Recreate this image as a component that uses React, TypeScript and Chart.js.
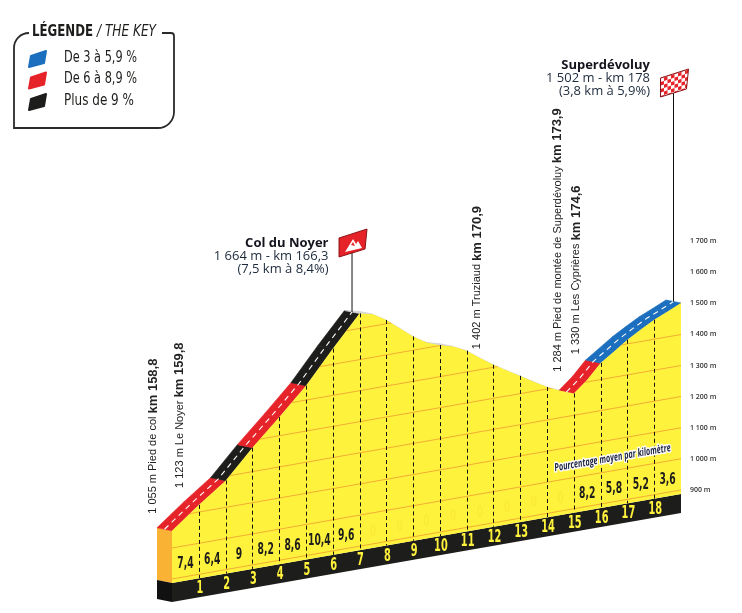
import { useEffect, useRef } from 'react';
import { Chart, registerables } from 'chart.js';

Chart.register(...registerables);

// profile: km from the foot of the Col du Noyer, elevation in metres
const profileKm = [0, 1, 2, 3, 4, 5, 6, 7, 7.5, 8, 8.5, 9, 9.5, 10, 10.5, 11, 11.5, 12, 12.5, 13, 13.5, 14, 14.5, 15, 15.5, 16, 16.5, 17, 17.5, 18, 18.5, 19];
const profileElev = [1055, 1123, 1186, 1277, 1360, 1446, 1550, 1648, 1638, 1612, 1578, 1544, 1517, 1501, 1489, 1468, 1437, 1408, 1382, 1357, 1331, 1306, 1287, 1270, 1307, 1353, 1383, 1413, 1438, 1462, 1481, 1501];
// average gradient of each km (0 = no climb)
const kmGradient = [7.4, 6.4, 9, 8.2, 8.6, 10.4, 9.6, 0, 0, 0, 0, 0, 0, 0, 0, 8.2, 5.8, 5.2, 3.6];
const kmMarks = [1, 2, 3, 4, 5, 6, 7, 8, 9, 10, 11, 12, 13, 14, 15, 16, 17, 18];
const elevTicks = [900, 1000, 1100, 1200, 1300, 1400, 1500, 1600, 1700];
const legendLabels = ['De 3 à 5,9 %', 'De 6 à 8,9 %', 'Plus de 9 %'];

const placeKm = [0, 1, 12.1, 15.1, 15.8];
const placeElev = [1055, 1123, 1402, 1284, 1330];
const placeNames = ['Pied de col', 'Le Noyer', 'Truziaud', 'Pied de montée de Superdévoluy', 'Les Cyprières'];
const placeRoadKm = ['158,8', '159,8', '170,9', '173,9', '174,6'];

const summitKm = [7, 19];
const summitNames = ['Col du Noyer', 'Superdévoluy'];
const summitInfo = ['1 664 m - km 166,3', '1 502 m - km 178'];
const summitClimb = ['(7,5 km à 8,4%)', '(3,8 km à 5,9%)'];

const YELLOW = '#fff23c';
const RED = '#e52329';
const BLACK = '#1d1d1b';
const BLUE = '#1b6fbe';
const TOP_GREY = '#d6d6d6';
const FACE = '#f9b233';
const GRID = 'rgba(240,160,50,0.85)';
const INK = '#1d1d1b';

const K = 0.175; // slant of the 3D base (px per px)
const DEPTH_X = -15; // 3D depth of the profile, screen px
const DEPTH_Y = -3;
const BASE_ELEV = 887;
const BAND_ELEV = 826;
const COND = '"DejaVu Sans Condensed"';

const fmtElev = (v: number) =>
  v >= 1000 ? `${Math.floor(v / 1000)} ${String(v % 1000).padStart(3, '0')} m` : `${v} m`;

const climbColor = (i0: number, i1: number) => {
  if (profileElev[i1] <= profileElev[i0]) return undefined;
  const g = kmGradient[Math.min(Math.floor(profileKm[i0]), kmGradient.length - 1)];
  if (g >= 9) return BLACK;
  if (g >= 6) return RED;
  if (g >= 3) return BLUE;
  return undefined;
};

function condText(ctx: CanvasRenderingContext2D, text: string, x: number, y: number, font: string, sx: number, align: CanvasTextAlign = 'center') {
  ctx.save();
  ctx.font = font;
  ctx.translate(x, y);
  ctx.scale(sx, 1);
  ctx.textAlign = align;
  ctx.fillText(text, 0, 0);
  ctx.restore();
}

function fitText(ctx: CanvasRenderingContext2D, text: string, x: number, y: number, font: string, width: number) {
  ctx.font = font;
  const w = ctx.measureText(text).width;
  condText(ctx, text, x, y, font, width / w, 'left');
}

const FILL = 0, DASH = 1;
// depth vector expressed in the slanted (chart) coordinates
const DEPTH_CX = DEPTH_X;
const DEPTH_CY = DEPTH_Y + K * DEPTH_X;

const profilePlugin = {
  id: 'profile3d',
  beforeDatasetsDraw(chart: any) {
    const { ctx, chartArea, scales } = chart;
    const { x, y } = scales;
    const R = chartArea.right;
    const scr = (px: number, py: number) => py + K * (R - px);
    const x0 = x.getPixelForValue(0);
    const top = scr(x0, y.getPixelForValue(profileElev[0]));
    const base = scr(x0, y.getPixelForValue(BASE_ELEV));
    const band = scr(x0, y.getPixelForValue(BAND_ELEV));
    ctx.save();
    ctx.fillStyle = FACE;
    ctx.beginPath();
    ctx.moveTo(x0, top); ctx.lineTo(x0 + DEPTH_X, top + DEPTH_Y); ctx.lineTo(x0 + DEPTH_X, base + DEPTH_Y); ctx.lineTo(x0, base);
    ctx.closePath(); ctx.fill();
    ctx.fillStyle = '#111';
    ctx.beginPath();
    ctx.moveTo(x0, base); ctx.lineTo(x0 + DEPTH_X, base + DEPTH_Y); ctx.lineTo(x0 + DEPTH_X, band + DEPTH_Y); ctx.lineTo(x0, band);
    ctx.closePath(); ctx.fill();
    ctx.restore();

    ctx.save();
    ctx.transform(1, -K, 0, 1, 0, K * R);
    const xe = x.getPixelForValue(profileKm[profileKm.length - 1]);
    ctx.fillStyle = BLACK;
    ctx.fillRect(x0, y.getPixelForValue(BASE_ELEV), xe - x0, y.getPixelForValue(BAND_ELEV) - y.getPixelForValue(BASE_ELEV));

    // top surface of the profile: each segment extruded by the depth vector
    const pts = chart.getDatasetMeta(FILL).data;
    ctx.lineWidth = 0.6;
    ctx.lineJoin = 'round';
    for (let i = 0; i < pts.length - 1; i++) {
      const a = pts[i], b = pts[i + 1];
      const col = climbColor(i, i + 1) ?? TOP_GREY;
      ctx.fillStyle = col;
      ctx.strokeStyle = col;
      ctx.beginPath();
      ctx.moveTo(a.x, a.y);
      ctx.lineTo(b.x, b.y);
      ctx.lineTo(b.x + DEPTH_CX, b.y + DEPTH_CY);
      ctx.lineTo(a.x + DEPTH_CX, a.y + DEPTH_CY);
      ctx.closePath();
      ctx.fill();
      ctx.stroke();
    }
  },
  beforeDatasetDraw(chart: any, args: any) {
    if (args.index === DASH) {
      chart.ctx.save();
      chart.ctx.translate(DEPTH_CX / 2, DEPTH_CY / 2);
    }
  },
  afterDatasetDraw(chart: any, args: any) {
    const { ctx, scales } = chart;
    if (args.index === DASH) ctx.restore();
    if (args.index !== FILL) return;
    const { x, y } = scales;
    const pts = args.meta.data;
    const baseY = y.getPixelForValue(BASE_ELEV);
    ctx.save();
    ctx.beginPath();
    ctx.moveTo(pts[0].x, baseY);
    pts.forEach((p: any) => ctx.lineTo(p.x, p.y));
    ctx.lineTo(pts[pts.length - 1].x, baseY);
    ctx.closePath();
    ctx.clip();
    ctx.strokeStyle = GRID;
    ctx.lineWidth = 1;
    elevTicks.forEach((v) => {
      const py = y.getPixelForValue(v);
      ctx.beginPath();
      ctx.moveTo(pts[0].x, py);
      ctx.lineTo(pts[pts.length - 1].x, py);
      ctx.stroke();
    });
    ctx.restore();
    ctx.save();
    ctx.strokeStyle = '#111';
    ctx.lineWidth = 1;
    ctx.setLineDash([4, 3]);
    kmMarks.forEach((km) => {
      const i = profileKm.indexOf(km);
      if (i < 0) return;
      const px = Math.round(x.getPixelForValue(km)) + 0.5;
      ctx.beginPath();
      ctx.moveTo(px, pts[i].y);
      ctx.lineTo(px, baseY);
      ctx.stroke();
    });
    ctx.restore();
  },
  afterDatasetsDraw(chart: any) {
    chart.ctx.restore();
  },
  afterDraw(chart: any) {
    const { ctx, chartArea, scales } = chart;
    const { x, y } = scales;
    const R = chartArea.right;
    const scrAt = (km: number, elev: number) => {
      const px = x.getPixelForValue(km);
      return [px, y.getPixelForValue(elev) + K * (R - px)];
    };

    ctx.save();
    ctx.textBaseline = 'middle';
    // km numbers in the base band
    ctx.fillStyle = YELLOW;
    kmMarks.forEach((km) => {
      const [px, py] = scrAt(km, 853);
      condText(ctx, String(km), px + 1, py, `bold 17px ${COND}`, 0.64);
    });
    // gradient per km
    kmGradient.forEach((g, i) => {
      const [px, py] = scrAt(i + 0.5, 940);
      ctx.fillStyle = g > 0 ? INK : 'rgba(200,180,0,0.09)';
      condText(ctx, String(g).replace('.', ','), px, py, `bold 16px ${COND}`, 0.64);
    });
    // slanted caption
    {
      const [px, py] = scrAt(16.45, 1041);
      const text = 'Pourcentage moyen par kilomètre';
      ctx.save();
      ctx.translate(px, py);
      ctx.rotate(Math.atan(-K));
      ctx.font = 'italic bold 11px "Open Sans"';
      const s = 118 / ctx.measureText(text).width;
      ctx.scale(s, 1);
      ctx.textAlign = 'center';
      ctx.lineJoin = 'round';
      ctx.strokeStyle = '#fff';
      ctx.lineWidth = 3;
      ctx.strokeText(text, 0, 0);
      ctx.fillStyle = '#1f2540';
      ctx.fillText(text, 0, 0);
      ctx.restore();
    }
    // vertical place labels
    placeKm.forEach((km, i) => {
      const [px, py] = scrAt(km, placeElev[i]);
      ctx.save();
      ctx.translate(px - 19, py - 17);
      ctx.rotate(-Math.PI / 2);
      ctx.fillStyle = '#222';
      ctx.textAlign = 'left';
      ctx.font = '11px "Liberation Sans"';
      const first = `${fmtElev(placeElev[i])} ${placeNames[i]} `;
      ctx.fillText(first, 0, 0);
      const w = ctx.measureText(first).width;
      ctx.font = 'bold 13px "Liberation Sans"';
      ctx.fillText(`km ${placeRoadKm[i]}`, w, 0);
      ctx.restore();
    });
    ctx.restore();

    // summits: pole, flag, text
    const flagTop = [229, 69];
    const textBase = [246.5, 68.5];
    summitKm.forEach((km, i) => {
      const idx = profileKm.indexOf(km);
      const [sx, sy] = scrAt(km, profileElev[idx]);
      const px = sx + DEPTH_X / 2;
      const fy = flagTop[i];
      const flagPath = () => {
        ctx.beginPath();
        ctx.moveTo(px - 13, fy + 9);
        ctx.lineTo(px + 15, fy);
        ctx.lineTo(px + 13, fy + 20);
        ctx.lineTo(px - 13, fy + 28);
        ctx.closePath();
      };
      ctx.save();
      ctx.strokeStyle = '#111';
      ctx.lineWidth = 1;
      ctx.beginPath();
      ctx.moveTo(px, fy + 20);
      ctx.lineTo(px, sy + DEPTH_Y / 2);
      ctx.stroke();
      flagPath();
      if (i === 0) {
        ctx.fillStyle = RED;
        ctx.fill();
        ctx.strokeStyle = '#8a1416';
        ctx.stroke();
        ctx.fillStyle = '#fff';
        ctx.beginPath();
        ctx.moveTo(px - 7, fy + 23);
        ctx.lineTo(px + 1, fy + 10);
        ctx.lineTo(px + 4, fy + 15);
        ctx.lineTo(px + 6, fy + 12);
        ctx.lineTo(px + 10, fy + 19);
        ctx.closePath();
        ctx.fill();
        ctx.fillStyle = RED;
        ctx.beginPath();
        ctx.moveTo(px - 1, fy + 16);
        ctx.lineTo(px + 1, fy + 13);
        ctx.lineTo(px + 3, fy + 17);
        ctx.closePath();
        ctx.fill();
      } else {
        ctx.fillStyle = '#fff';
        ctx.fill();
        ctx.save();
        ctx.clip();
        ctx.fillStyle = RED;
        const c = 3.5;
        const t = 9 / 28;
        for (let a = 0; a < 9; a++) {
          for (let b = 0; b < 10; b++) {
            if ((a + b) % 2) continue;
            const cx = px - 13 + a * c;
            const cy = fy + 9 - a * c * t + b * c - 3;
            ctx.beginPath();
            ctx.moveTo(cx, cy);
            ctx.lineTo(cx + c, cy - c * t);
            ctx.lineTo(cx + c, cy + c - c * t);
            ctx.lineTo(cx, cy + c);
            ctx.closePath();
            ctx.fill();
          }
        }
        ctx.restore();
        flagPath();
        ctx.strokeStyle = '#8a1416';
        ctx.stroke();
      }
      const tx = px - 23.5;
      const tb = textBase[i];
      ctx.textAlign = 'right';
      ctx.textBaseline = 'alphabetic';
      ctx.fillStyle = '#14141e';
      ctx.font = 'bold 13px "Open Sans"';
      ctx.fillText(summitNames[i], tx, tb);
      ctx.fillStyle = '#1c2a3c';
      ctx.font = '13px "Open Sans"';
      ctx.fillText(summitInfo[i], tx, tb + 13);
      ctx.fillText(summitClimb[i], tx, tb + 26);
      ctx.restore();
    });

    // legend
    ctx.save();
    ctx.strokeStyle = '#2a2a2a';
    ctx.lineWidth = 1.8;
    ctx.beginPath();
    ctx.moveTo(162, 33);
    ctx.lineTo(171, 33);
    ctx.arcTo(174, 33, 174, 36, 3);
    ctx.lineTo(174, 112);
    ctx.arcTo(174, 128, 158, 128, 16);
    ctx.lineTo(14, 128);
    ctx.lineTo(14, 48);
    ctx.arcTo(14, 33, 29, 33, 15);
    ctx.stroke();
    ctx.fillStyle = INK;
    ctx.textBaseline = 'alphabetic';
    fitText(ctx, 'LÉGENDE', 32, 35.5, `bold 16px ${COND}`, 61);
    fitText(ctx, '/ THE KEY', 97, 35.5, `oblique 16px ${COND}`, 59);
    const swatch = [BLUE, RED, BLACK];
    legendLabels.forEach((label, i) => {
      const dy = i * 21.5;
      ctx.fillStyle = swatch[i];
      ctx.strokeStyle = swatch[i];
      ctx.lineJoin = 'round';
      ctx.lineWidth = 2;
      ctx.beginPath();
      ctx.moveTo(31, 56 + dy);
      ctx.lineTo(46, 51 + dy);
      ctx.lineTo(44, 63 + dy);
      ctx.lineTo(29, 67 + dy);
      ctx.closePath();
      ctx.fill();
      ctx.stroke();
      ctx.fillStyle = INK;
      fitText(ctx, label, 64, 61.5 + dy, `15px ${COND}`, i === 2 ? 70 : 73);
    });
    ctx.restore();
  },
};

export default function App() {
  const canvasRef = useRef<HTMLCanvasElement | null>(null);

  useEffect(() => {
    document.body.style.margin = '0';
    const canvas = canvasRef.current;
    if (!canvas) return;
    const points = profileKm.map((km, i) => ({ x: km, y: profileElev[i] }));
    const none = 'rgba(0,0,0,0)';
    const chart = new Chart(canvas, {
      type: 'line',
      data: {
        datasets: [
          {
            label: 'profil',
            data: points,
            backgroundColor: YELLOW,
            borderColor: none,
            borderWidth: 1,
            fill: { value: BASE_ELEV },
            pointRadius: 0,
            clip: false,
            order: 1,
          },
          {
            label: 'axe',
            data: points,
            borderColor: none,
            borderWidth: 1.2,
            borderDash: [5, 4],
            fill: false,
            pointRadius: 0,
            clip: false,
            order: 0,
            segment: { borderColor: (c: any) => (climbColor(c.p0DataIndex, c.p1DataIndex) ? '#ffffff' : undefined) },
          },
        ],
      },
      options: {
        responsive: true,
        maintainAspectRatio: false,
        animation: false,
        events: [],
        layout: { padding: { left: 172, right: 0, top: 210, bottom: 92 } },
        plugins: { legend: { display: false }, tooltip: { enabled: false } },
        scales: {
          x: { type: 'linear', min: 0, max: 19, display: false },
          y: {
            type: 'linear',
            position: 'right',
            min: 800,
            max: 1800,
            grid: { display: false, drawTicks: false },
            border: { display: false },
            afterBuildTicks: (s: any) => {
              s.ticks = elevTicks.map((v) => ({ value: v }));
            },
            afterFit: (s: any) => {
              s.width = 61;
            },
            ticks: {
              padding: 9,
              color: '#333',
              autoSkip: false,
              font: { family: 'Open Sans', size: 7, weight: 600 },
              callback: (v: any) => fmtElev(Number(v)),
            },
          },
        },
      },
      plugins: [profilePlugin],
    } as any);
    return () => chart.destroy();
  }, []);

  return (
    <div style={{ position: 'relative', width: 742, height: 613, background: '#fff' }}>
      <canvas ref={canvasRef} />
    </div>
  );
}
